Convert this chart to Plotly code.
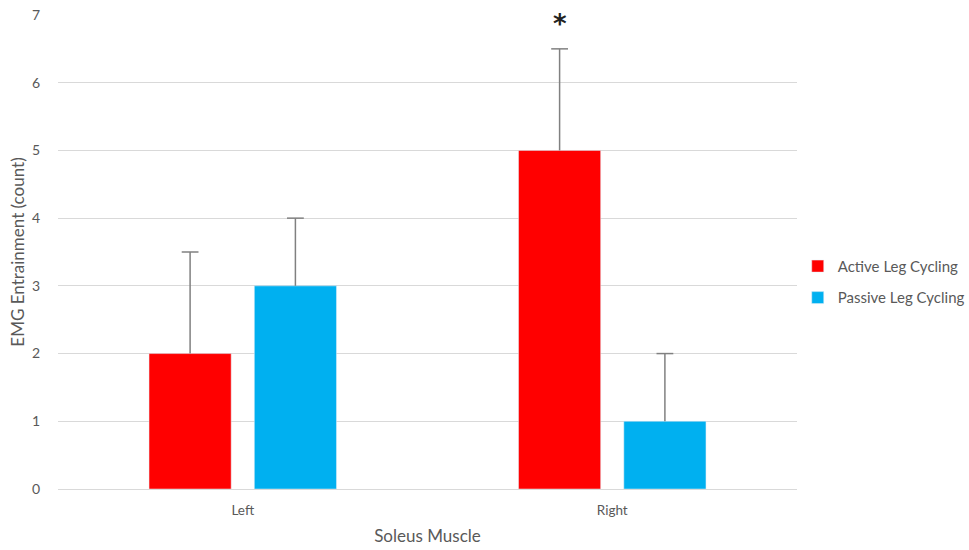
import plotly.graph_objects as go

categories = ["Left", "Right"]
active_values = [2, 5]
active_err = [1.5, 1.5]
passive_values = [3, 1]
passive_err = [1, 1]
y_ticks = [0, 1, 2, 3, 4, 5, 6, 7]

font_family = "Lato, 'Open Sans', sans-serif"
grey = "#595959"
err_color = "#808080"

fig = go.Figure()
fig.add_trace(go.Bar(
    name="Active Leg Cycling", x=categories, y=active_values,
    marker=dict(color="#ff0000"), legendgroup="a", offsetgroup="a",
    error_y=dict(type="data", array=active_err, arrayminus=[0, 0], symmetric=False,
                 color=err_color, thickness=1.5, width=0),
))
fig.add_trace(go.Bar(
    name="Passive Leg Cycling", x=categories, y=passive_values,
    marker=dict(color="#00b0f0"), legendgroup="b", offsetgroup="b",
    error_y=dict(type="data", array=passive_err, arrayminus=[0, 0], symmetric=False,
                 color=err_color, thickness=1.5, width=0),
))
# error bar caps
for vals, errs, grp in [(active_values, active_err, "a"), (passive_values, passive_err, "b")]:
    fig.add_trace(go.Scatter(
        x=categories, y=[v + e for v, e in zip(vals, errs)], mode="markers",
        offsetgroup=grp, showlegend=False, hoverinfo="skip",
        marker=dict(symbol="line-ew", size=12, line=dict(color=err_color, width=1.5)),
    ))

fig.add_annotation(x="Right", y=6.87, text="<b>*</b>", showarrow=False, xshift=-52.5,
                   font=dict(size=26, color="#222222", family="DejaVu Sans"),
                   yanchor="middle")

fig.update_layout(
    width=969, height=550,
    margin=dict(l=58, r=172, t=15, b=61, autoexpand=False),
    paper_bgcolor="white", plot_bgcolor="white",
    barmode="group", bargap=0.43, bargroupgap=0.22,
    scattermode="group", scattergap=0.43,
    font=dict(family=font_family, color=grey, size=13),
    showlegend=True,
    legend=dict(x=1.001, y=0.437, xanchor="left", yanchor="middle",
                font=dict(size=15, color=grey), itemwidth=30, tracegroupgap=9),
    xaxis=dict(title=dict(text="Soleus Muscle", font=dict(size=17, color=grey), standoff=12),
               tickfont=dict(size=13.5, color=grey), showline=True, linecolor="#d9d9d9",
               linewidth=1, ticks="outside", ticklen=9, tickcolor="rgba(0,0,0,0)",
               showgrid=False, automargin=False),
    yaxis=dict(title=dict(text="EMG Entrainment (count)", font=dict(size=17, color=grey), standoff=3),
               range=[0, 7], tickvals=y_ticks, tickfont=dict(size=14, color=grey),
               showgrid=True, gridcolor="#d9d9d9", gridwidth=1, zeroline=False,
               showline=False, ticks="outside", ticklen=14, tickcolor="rgba(0,0,0,0)",
               automargin=False),
)

fig.write_html("out.html", config={"displayModeBar": False},
               post_script="document.body.style.margin='0';")
